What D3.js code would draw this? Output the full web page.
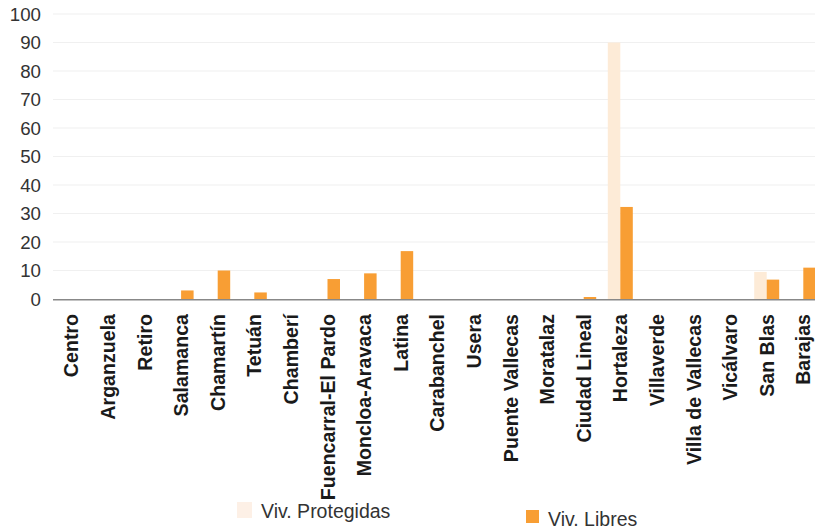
<!DOCTYPE html>
<html>
<head>
<meta charset="utf-8">
<script src="https://cdn.jsdelivr.net/npm/d3@7"></script>
<style>
  body { margin: 0; background: #fff; }
  svg { display: block; font-family: "Liberation Sans", Arial, sans-serif; }
</style>
</head>
<body>
<svg id="chart"></svg>
<script>
// districts
const distritos = ["Centro", "Arganzuela", "Retiro", "Salamanca", "Chamartín", "Tetuán",
  "Chamberí", "Fuencarral-El Pardo", "Moncloa-Aravaca", "Latina", "Carabanchel", "Usera",
  "Puente Vallecas", "Moratalaz", "Ciudad Lineal", "Hortaleza", "Villaverde",
  "Villa de Vallecas", "Vicálvaro", "San Blas", "Barajas"];
const protegidas = [0, 0, 0, 0, 0, 0, 0, 0, 0, 0, 0, 0, 0, 0, 0, 90, 0, 0, 0, 9.5, 0];
const libres = [0, 0, 0, 3, 10, 2.3, 0, 7, 9, 16.8, 0, 0, 0, 0, 0.7, 32.3, 0, 0, 0, 6.8, 11];
const series = ["Viv. Protegidas", "Viv. Libres"];
const colores = ["#fdebd7", "#f89e34"];
const yTicks = [0, 10, 20, 30, 40, 50, 60, 70, 80, 90, 100];

const width = 815, height = 531;
const dims = { left: 53, top: 14, bottom: 299 };

const svg = d3.select("#chart").attr("width", width).attr("height", height);

const x = d3.scaleBand()
  .domain(distritos)
  .range([dims.left, dims.left + 36.6 * distritos.length])
  .paddingInner(0).paddingOuter(0);

const y = d3.scaleLinear().domain([0, 100]).range([dims.bottom, dims.top]);

// gridlines
svg.append("g")
  .selectAll("line")
  .data(yTicks.slice(1))
  .enter()
  .append("line")
  .attr("x1", dims.left)
  .attr("x2", width)
  .attr("y1", d => y(d))
  .attr("y2", d => y(d))
  .attr("stroke", "#f0f0f0")
  .attr("stroke-width", 1.2);

// y labels
svg.append("g")
  .selectAll("text")
  .data(yTicks)
  .enter()
  .append("text")
  .attr("x", 41)
  .attr("y", d => y(d))
  .attr("dy", "0.36em")
  .attr("text-anchor", "end")
  .attr("fill", "#333")
  .style("font-size", "18.7px")
  .text(d => d);

// bars: group of two, libres starts at band centre
const barW = 12.5;
const data = [protegidas, libres];

data.forEach((vals, s) => {
  svg.append("g")
    .selectAll("rect")
    .data(vals)
    .enter()
    .append("rect")
    .attr("x", (d, i) => x(distritos[i]) + x.bandwidth() / 2 - barW + s * barW)
    .attr("y", d => y(d))
    .attr("width", barW)
    .attr("height", d => y(0) - y(d))
    .attr("fill", colores[s]);
});

// base axis line
svg.append("line")
  .attr("x1", dims.left)
  .attr("x2", width)
  .attr("y1", y(0) + 0.75)
  .attr("y2", y(0) + 0.75)
  .attr("stroke", "#888")
  .attr("stroke-width", 1.5);

// category labels
svg.append("g")
  .selectAll("text")
  .data(distritos)
  .enter()
  .append("text")
  .attr("transform", d => "translate(" + (x(d) + x.bandwidth() / 2 + 7) + ",314)rotate(-90)")
  .attr("text-anchor", "end")
  .attr("fill", "#1a1a1a")
  .style("font-size", "19.6px")
  .style("font-weight", "bold")
  .text(d => d);

// legend
const leg = [
  { x: 237, y: 502, tx: 261, ty: 518 },
  { x: 526, y: 510, tx: 548, ty: 526 }
];
leg.forEach((l, i) => {
  svg.append("rect")
    .attr("x", l.x).attr("y", l.y)
    .attr("width", i === 0 ? 15 : 13).attr("height", i === 0 ? 16 : 13)
    .attr("fill", i === 0 ? "#fdf0e6" : colores[1]);
  svg.append("text")
    .attr("x", l.tx).attr("y", l.ty)
    .attr("fill", "#333")
    .style("font-size", "19.5px")
    .text(series[i]);
});
</script>
</body>
</html>
